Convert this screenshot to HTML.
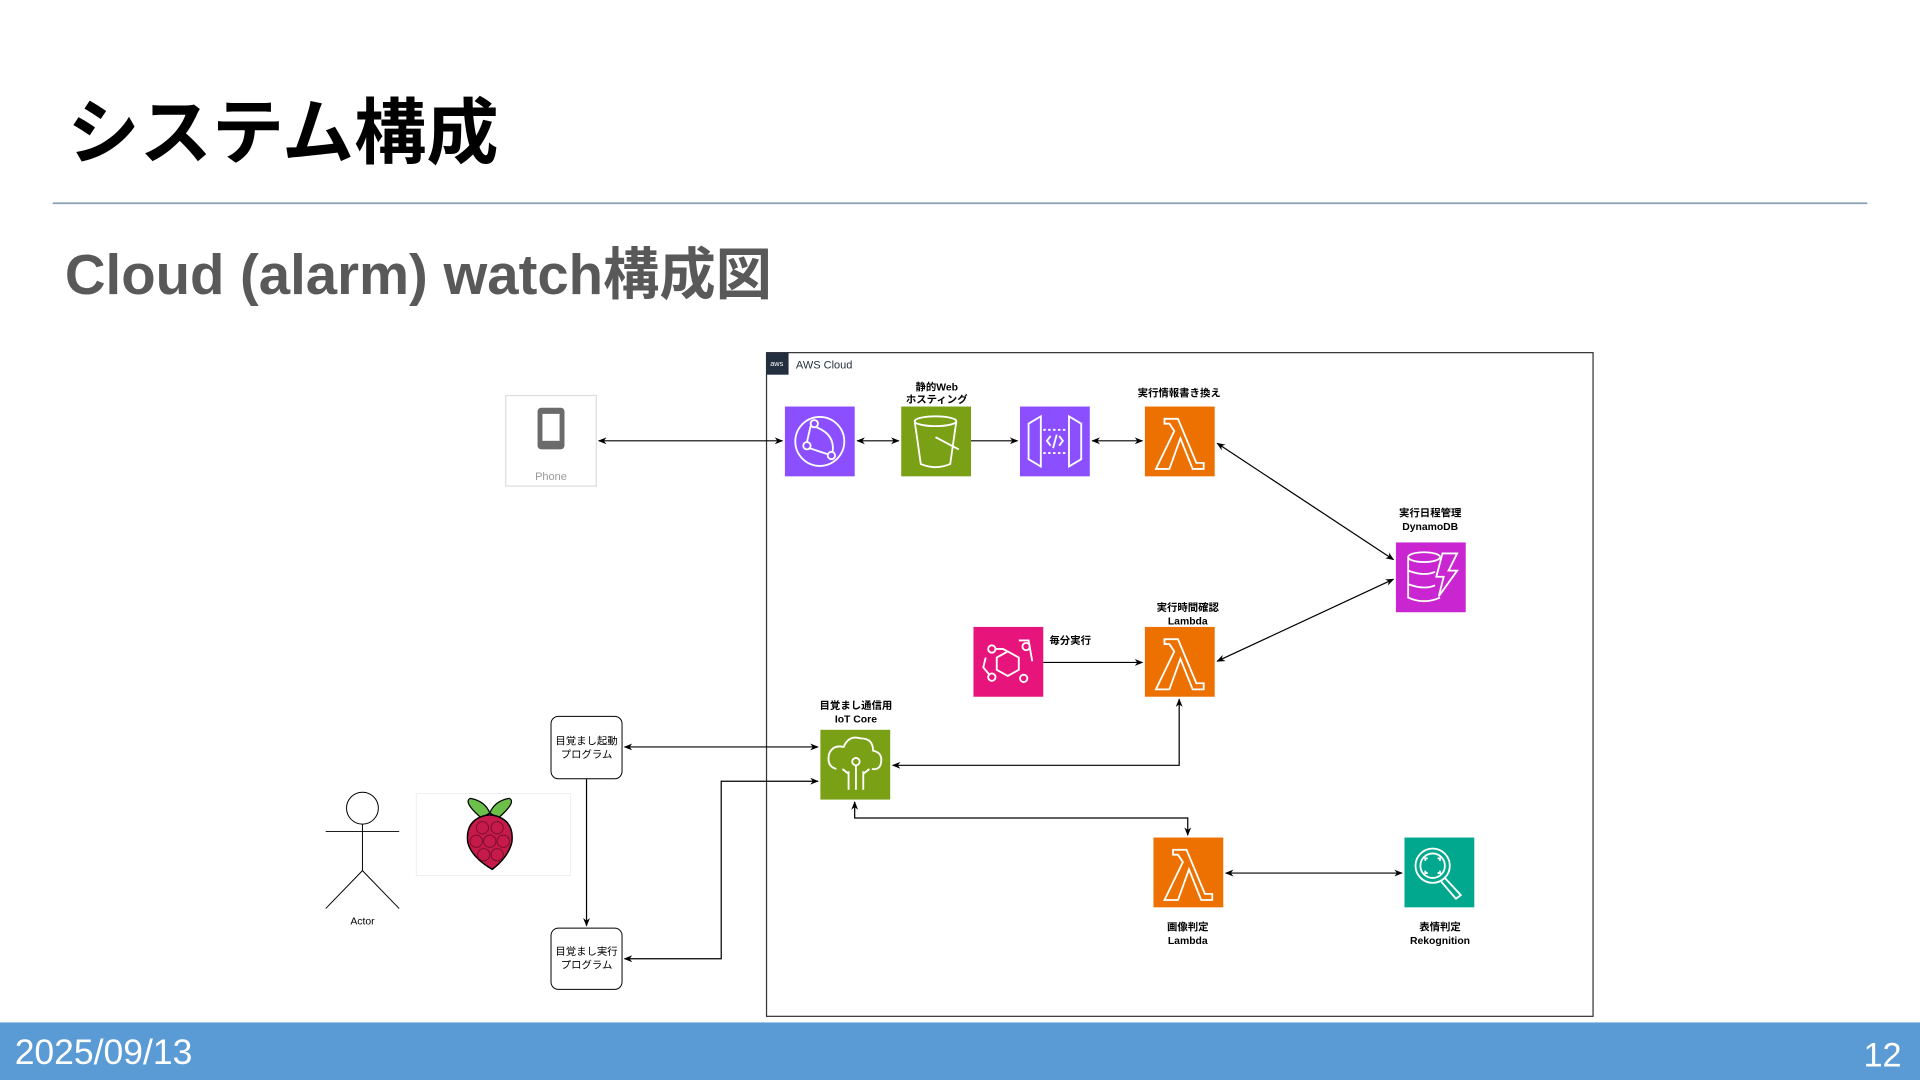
<!DOCTYPE html>
<html><head><meta charset="utf-8"><style>
html,body{margin:0;padding:0;width:1920px;height:1080px;overflow:hidden;background:#fff}
svg{display:block}
text{font-family:"Liberation Sans","Noto Sans CJK JP",sans-serif}
</style></head><body>
<svg width="1920" height="1080" viewBox="0 0 1568 882" xmlns="http://www.w3.org/2000/svg">
<defs>
<marker id="a" viewBox="0 0 10 10" refX="9" refY="5" markerWidth="7" markerHeight="7" orient="auto-start-reverse"><path d="M0,1 L10,5 L0,9 L3,5 Z" fill="#000"/></marker>
</defs>
<rect width="1568" height="882" fill="#fff"/>
<text x="55" y="129" font-size="59" font-weight="bold" fill="#000">システム構成</text>
<line x1="43" y1="166" x2="1525" y2="166" stroke="#8aa0b6" stroke-width="1.5"/>
<text x="53" y="240" font-size="46" font-weight="bold" fill="#595959">Cloud (alarm) watch構成図</text>

<rect x="626" y="288" width="675" height="542" fill="none" stroke="#333" stroke-width="1"/>
<rect x="626" y="288" width="18" height="18" fill="#232f3e"/>
<text x="629" y="299" font-size="6" fill="#fff">aws</text>
<text x="650" y="301" font-size="9" fill="#232f3e">AWS Cloud</text>

<rect x="413" y="323" width="74" height="74" fill="#fff" stroke="#ddd" stroke-width="1"/>
<rect x="439" y="333" width="22" height="34" rx="3" fill="#6b6b6b"/>
<rect x="443" y="338" width="14" height="22" fill="#fff"/>
<text x="450" y="392" font-size="9" fill="#999" text-anchor="middle">Phone</text>

<g stroke="#000" stroke-width="1" fill="none">
<line x1="489" y1="360" x2="639" y2="360" marker-start="url(#a)" marker-end="url(#a)"/>
<line x1="700" y1="360" x2="734" y2="360" marker-start="url(#a)" marker-end="url(#a)"/>
<line x1="793" y1="360" x2="831" y2="360" marker-end="url(#a)"/>
<line x1="892" y1="360" x2="933" y2="360" marker-start="url(#a)" marker-end="url(#a)"/>
<line x1="994" y1="362" x2="1138" y2="457" marker-start="url(#a)" marker-end="url(#a)"/>
<line x1="994" y1="540" x2="1138" y2="473" marker-start="url(#a)" marker-end="url(#a)"/>
<line x1="852" y1="541" x2="933" y2="541" marker-end="url(#a)"/>
<polyline points="729,625 963,625 963,571" marker-start="url(#a)" marker-end="url(#a)"/>
<line x1="510" y1="610" x2="668" y2="610" marker-start="url(#a)" marker-end="url(#a)"/>
<line x1="479" y1="636" x2="479" y2="756" marker-end="url(#a)"/>
<polyline points="668,638 589,638 589,783 510,783" marker-start="url(#a)" marker-end="url(#a)"/>
<polyline points="698,655 698,668 970,668 970,682" marker-start="url(#a)" marker-end="url(#a)"/>
<line x1="1001" y1="713" x2="1145" y2="713" marker-start="url(#a)" marker-end="url(#a)"/>
</g>

<rect x="641" y="332" width="57" height="57" fill="#8c4fff"/>
<g stroke="#fff" stroke-width="1.5" fill="none"><circle cx="669.5" cy="360.5" r="20"/><circle cx="665" cy="346" r="3"/><circle cx="659" cy="364" r="3"/><circle cx="679" cy="372" r="3"/><path d="M662,348 L659,361 M661,366 L676,371 M667,349 Q682,355 680,369"/></g>
<rect x="736" y="332" width="57" height="57" fill="#7aa116"/>
<g stroke="#fff" stroke-width="1.5" fill="none"><ellipse cx="764" cy="344" rx="17" ry="4"/><path d="M747,344 L752,379 Q764,384 776,379 L781,344"/><path d="M764,357 L783,367"/></g>
<rect x="833" y="332" width="57" height="57" fill="#8c4fff"/>
<g stroke="#fff" stroke-width="1.5" fill="none"><path d="M840,346 L850,340 L850,381 L840,375 Z M883,346 L873,340 L873,381 L883,375 Z"/><path d="M852,351 L871,351 M852,370 L871,370" stroke-dasharray="2,2"/><path d="M858,356 L855,360 L858,364 M865,356 L868,360 L865,364 M863,355 L860,366"/></g>
<rect x="935" y="332" width="57" height="57" fill="#ed7100"/>
<path d="M951,342 L962,342 L977,378 L983,378 L983,383 L974,383 L964,358 L955,383 L944,383 L959,352 L955,346 L951,346 Z" fill="none" stroke="#fff" stroke-width="1.5"/>
<rect x="935" y="512" width="57" height="57" fill="#ed7100"/>
<path d="M951,522 L962,522 L977,558 L983,558 L983,563 L974,563 L964,538 L955,563 L944,563 L959,532 L955,526 L951,526 Z" fill="none" stroke="#fff" stroke-width="1.5"/>
<rect x="942" y="684" width="57" height="57" fill="#ed7100"/>
<path d="M958,694 L969,694 L984,730 L990,730 L990,735 L981,735 L971,710 L962,735 L951,735 L966,704 L962,698 L958,698 Z" fill="none" stroke="#fff" stroke-width="1.5"/>
<rect x="1140" y="443" width="57" height="57" fill="#c925d1"/>
<g stroke="#fff" stroke-width="1.5" fill="none"><ellipse cx="1163" cy="455" rx="13" ry="4"/><path d="M1150,455 L1150,488 Q1163,494 1176,488 M1150,466 Q1163,471 1172,467 M1150,477 Q1163,482 1172,478"/><path d="M1178,452 L1190,452 L1183,466 L1190,466 L1175,487 L1179,471 L1173,471 Z"/></g>
<rect x="795" y="512" width="57" height="57" fill="#e7157b"/>
<g stroke="#fff" stroke-width="1.5" fill="none"><path d="M823,532 L832,537 L832,547 L823,552 L814,547 L814,537 Z"/><circle cx="810" cy="530" r="3"/><circle cx="836" cy="554" r="3"/><circle cx="810" cy="553" r="3"/><circle cx="838" cy="528" r="3"/><path d="M813,530 L819,530 L823,532 M832,523 L840,523 L843,540 M805,537 L803,545 L808,551"/></g>
<rect x="670" y="596" width="57" height="57" fill="#7aa116"/>
<g stroke="#fff" stroke-width="1.5" fill="none"><path d="M683,628 Q675,626 677,616 Q680,608 689,610 Q693,600 703,603 Q713,603 713,613 Q722,615 719,625 Q717,629 712,628"/><circle cx="699" cy="622" r="3"/><path d="M699,625 L699,645 M693,630 L693,645 M705,630 L705,645 M688,628 L693,632 M710,628 L705,632"/></g>
<rect x="1147" y="684" width="57" height="57" fill="#01a88d"/>
<g stroke="#fff" stroke-width="1.5" fill="none"><circle cx="1170" cy="707" r="14"/><circle cx="1170" cy="707" r="10"/><path d="M1180,717 L1193,731 L1189,734 L1177,720"/><path d="M1164,703 L1164,701 L1166,701 M1174,701 L1176,701 L1176,703 M1164,711 L1164,713 L1166,713 M1176,711 L1176,713 L1174,713"/></g>

<g font-size="8.5" font-weight="bold" fill="#000" text-anchor="middle">
<text x="765" y="319">静的Web</text><text x="765" y="329">ホスティング</text>
<text x="963" y="324">実行情報書き換え</text>
<text x="1168" y="422">実行日程管理</text><text x="1168" y="433">DynamoDB</text>
<text x="970" y="499">実行時間確認</text><text x="970" y="510">Lambda</text>
<text x="874" y="526">毎分実行</text>
<text x="699" y="579">目覚まし通信用</text><text x="699" y="590">IoT Core</text>
<text x="970" y="760">画像判定</text><text x="970" y="771">Lambda</text>
<text x="1176" y="760">表情判定</text><text x="1176" y="771">Rekognition</text>
</g>

<rect x="450" y="585" width="58" height="51" rx="6" fill="#fff" stroke="#000" stroke-width="0.8"/>
<text x="479" y="608" font-size="8.5" text-anchor="middle">目覚まし起動</text>
<text x="479" y="619" font-size="8.5" text-anchor="middle">プログラム</text>
<rect x="450" y="758" width="58" height="50" rx="6" fill="#fff" stroke="#000" stroke-width="0.8"/>
<text x="479" y="780" font-size="8.5" text-anchor="middle">目覚まし実行</text>
<text x="479" y="791" font-size="8.5" text-anchor="middle">プログラム</text>

<g stroke="#000" stroke-width="0.8" fill="none"><circle cx="296" cy="660" r="13"/><path d="M296,673 L296,711 M266,679 L326,679 M296,711 L266,742 M296,711 L326,742"/></g>
<text x="296" y="755" font-size="8.5" text-anchor="middle">Actor</text>

<rect x="340" y="648" width="126" height="67" fill="#fff" stroke="#f0f0f0" stroke-width="0.8"/>
<path d="M393,668 Q378,655 384,652 Q396,654 400,664 Z" fill="#6cc04a" stroke="#000" stroke-width="1"/>
<path d="M407,668 Q422,655 416,652 Q404,654 400,664 Z" fill="#6cc04a" stroke="#000" stroke-width="1"/>
<path d="M402,710 Q385,700 382,688 Q380,672 393,667 Q400,664 407,667 Q420,672 418,688 Q415,700 402,710 Z" fill="#c51a4a" stroke="#000" stroke-width="1.2"/>
<g stroke="#7a0e2c" stroke-width="0.8" fill="none"><circle cx="394" cy="676" r="5"/><circle cx="406" cy="676" r="5"/><circle cx="389" cy="687" r="5"/><circle cx="400" cy="687" r="5"/><circle cx="411" cy="687" r="5"/><circle cx="395" cy="698" r="5"/><circle cx="406" cy="698" r="5"/></g>

<rect x="0" y="835" width="1568" height="47" fill="#5b9bd5"/>
<text x="12" y="869" font-size="29" fill="#fff">2025/09/13</text>
<text x="1553" y="871" font-size="28" fill="#fff" text-anchor="end">12</text>
</svg>
</body></html>
